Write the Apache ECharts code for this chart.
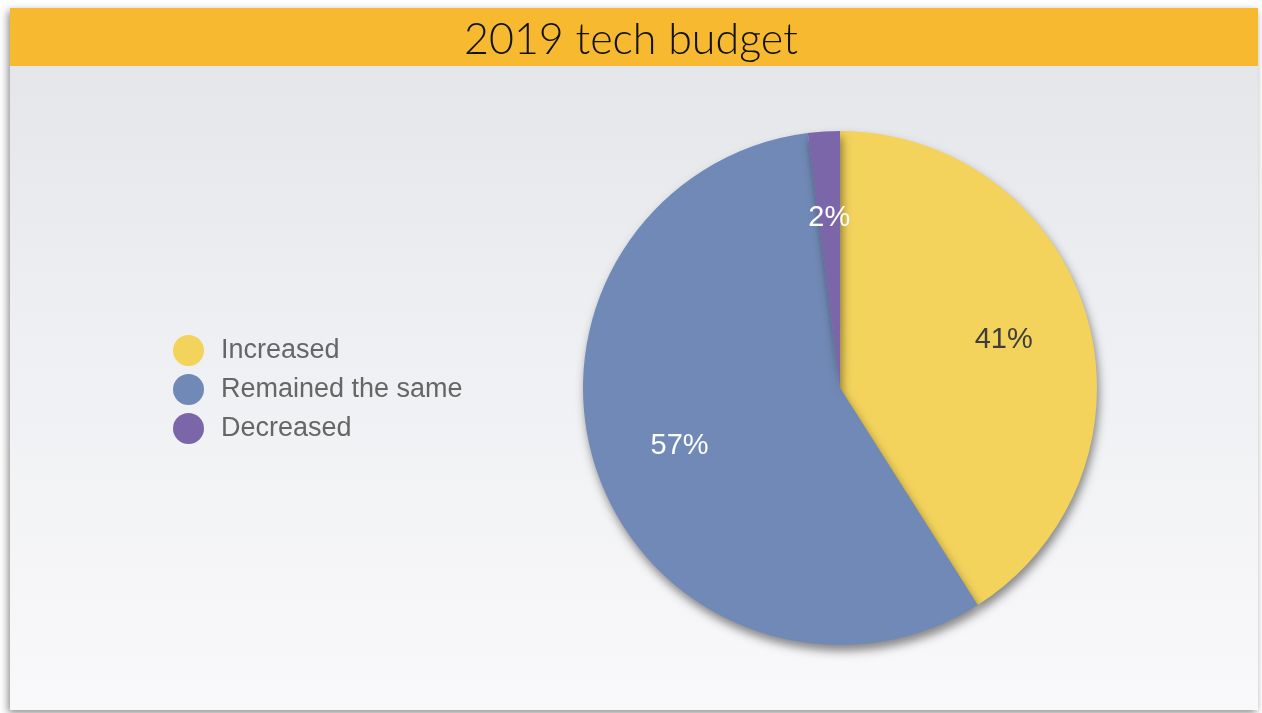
<!DOCTYPE html>
<html>
<head>
<meta charset="utf-8">
<title>2019 tech budget</title>
<script src="https://cdn.jsdelivr.net/npm/echarts@6/dist/echarts.min.js"></script>
<style>
  html, body { margin: 0; padding: 0; background: #ffffff; }
  #chart { width: 1262px; height: 713px; }
</style>
</head>
<body>
<div id="chart"></div>
<script>
// data
const categories = ['Increased', 'Remained the same', 'Decreased']
const shares = [41, 57, 2]
const sliceColors = ['#f3d35c', '#7189b6', '#7b66a9']
const labelColors = ['#3d3d3d', '#ffffff', '#ffffff']

const chart = echarts.init(document.getElementById('chart'))

const slices = categories.map((name, i) => ({
  name,
  value: shares[i],
  itemStyle: { color: sliceColors[i] }
}))

// same slices, transparent, only to push the labels out to ~2/3 of the radius
const labelSlices = categories.map((name, i) => ({
  name,
  value: shares[i],
  label: { color: labelColors[i] }
}))

const option = {
  animation: false,
  graphic: [
    {
      type: 'rect',
      shape: { x: 10, y: 8, width: 1248, height: 702 },
      style: {
        fill: new echarts.graphic.LinearGradient(0, 0, 0, 1, [
          { offset: 0, color: '#e3e4e8' },
          { offset: 0.45, color: '#eeeff2' },
          { offset: 1, color: '#f9f9fb' }
        ]),
        shadowBlur: 8,
        shadowOffsetX: -2,
        shadowOffsetY: 3,
        shadowColor: 'rgba(0,0,0,0.45)'
      },
      z: -10
    },
    {
      type: 'rect',
      shape: { x: 10, y: 8, width: 1248, height: 58 },
      style: { fill: '#f7b930' },
      z: -9
    }
  ],
  title: {
    text: '2019 tech budget',
    left: 'center',
    top: 14,
    textStyle: {
      fontFamily: 'Lato',
      fontWeight: 300,
      fontSize: 43,
      color: '#111111'
    }
  },
  legend: {
    orient: 'vertical',
    left: 173,
    top: 335,
    padding: 0,
    icon: 'circle',
    itemWidth: 31,
    itemHeight: 31,
    itemGap: 8,
    data: categories,
    textStyle: {
      fontFamily: 'Liberation Sans',
      fontSize: 27,
      color: '#666666',
      padding: [0, 0, 0, 12]
    }
  },
  series: [
    {
      name: 'budget',
      type: 'pie',
      center: [840, 388],
      radius: 257,
      startAngle: 90,
      clockwise: true,
      silent: true,
      label: { show: false },
      labelLine: { show: false },
      itemStyle: {
        shadowBlur: 10,
        shadowOffsetX: 2,
        shadowOffsetY: 6,
        shadowColor: 'rgba(0,0,0,0.45)'
      },
      data: slices
    },
    {
      name: 'labels',
      type: 'pie',
      center: [840, 388],
      radius: [78, 257],
      startAngle: 90,
      clockwise: true,
      silent: true,
      itemStyle: { color: 'rgba(0,0,0,0)' },
      label: {
        show: true,
        position: 'inside',
        formatter: '{c}%',
        fontFamily: 'Liberation Sans',
        fontSize: 29,
        fontWeight: 'normal'
      },
      labelLine: { show: false },
      data: labelSlices
    }
  ]
}

chart.setOption(option)
window.addEventListener('resize', () => chart.resize())
</script>
</body>
</html>
